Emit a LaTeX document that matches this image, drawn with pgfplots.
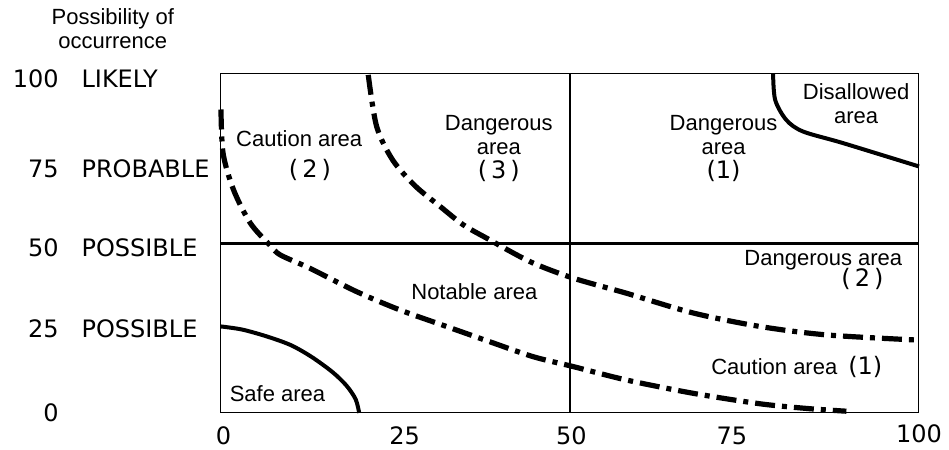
\documentclass[border=0pt]{standalone}
\usepackage{fontspec}
\setmainfont{Liberation Sans}
\newfontfamily\tickfont{DejaVu Sans}
\usepackage{pgfplots}
\pgfplotsset{compat=1.18}
\newcommand{\yl}[2]{\makebox[23.5pt][r]{#1}\hspace{11.5pt}\makebox[66.5pt][l]{#2}}
\newcommand{\pn}[1]{{\tickfont\fontsize{12}{12}\selectfont(\,#1\,)}}
\begin{document}
\begin{tikzpicture}
\begin{axis}[
  scale only axis, width=349pt, height=169.5pt,
  xmin=0, xmax=100, ymin=0, ymax=100,
  clip=false,
  axis line style={line width=0.5pt},
  xtick={0.35,26.3,50.2,73.2,100},
  xticklabels={0,25,50,75,\raisebox{1pt}{100}},
  ytick={0,24.8,48.8,72,98.5},
  yticklabels={\yl{0}{},\yl{25}{POSSIBLE},\yl{50}{POSSIBLE},\yl{75}{PROBABLE},\yl{100}{LIKELY}},
  major tick length=0pt,
  tick label style={font=\tickfont\fontsize{12}{14}\selectfont},
  xticklabel style={anchor=base, inner sep=0pt, yshift=-16pt},
  yticklabel style={anchor=east, inner sep=0pt, xshift=-3pt},
  /pgf/number format/assume math mode=true,
]
% dividing lines
\addplot[black, line width=1.3pt] coordinates {(50,0) (50,100)};
\addplot[black, line width=1.3pt] coordinates {(0,50) (100,50)};
% safe area
\addplot[black, line width=2pt, smooth] coordinates {
 (0,25.5) (3,24.6) (6.5,22.6) (10,20) (13,16.5) (16,12) (18,8) (19.3,4) (19.8,0)};
% disallowed area
\addplot[black, line width=2pt, smooth] coordinates {
 (79.1,100) (79.4,92.3) (81,86.4) (83.4,83) (89.1,79.6) (100,72.7)};
% lower dash-dot
\addplot[black, line width=2.6pt, smooth, dash pattern=on 10pt off 3.5pt on 2.5pt off 3.5pt] coordinates {
 (0,89.5) (0.3,76.6) (1.8,65.8) (4.2,56) (7,49.5) (8.5,46.6) (12.7,42.7) (19.4,35.8) (25.6,30.4)
 (32.3,25.5) (38.5,21) (44.7,16.6) (50.4,13.7) (58.1,9.7) (67.6,5.8) (77.2,2.7) (84,1.3) (89.6,0.5)};
% upper dash-dot
\addplot[black, line width=2.6pt, smooth, dash pattern=on 10pt off 3.5pt on 2.5pt off 3.5pt] coordinates {
 (21.1,99.7) (22.3,84.5) (24.6,74.6) (27.8,67) (31.4,60.9) (34.7,55.5) (38.1,51.5) (44.3,44.6) (50.4,39.8)
 (58.1,35.3) (67.6,29.5) (77.2,25.5) (86.8,23) (99.7,21.5)};
% labels
\begin{scope}[every node/.style={font=\fontsize{11}{12}\selectfont, align=center, inner sep=0pt}]
\node at (axis cs:-15.5,113.4) {Possibility of\\occurrence};
\node at (axis cs:11.2,81) {Caution area};
\node at (axis cs:12.75,71.7) {\pn{2}};
\node at (axis cs:39.8,78.0) {Dangerous\\area\\\pn{3}};
\node at (axis cs:72,78.0) {Dangerous\\area\\{\tickfont\fontsize{12}{12}\selectfont(1)}};
\node at (axis cs:91,91.3) {Disallowed\\area};
\node at (axis cs:86.3,45.1) {Dangerous area};
\node at (axis cs:91.9,39.5) {\pn{2}};
\node at (axis cs:36.3,35.7) {Notable area};
\node at (axis cs:82.5,13.6) {Caution area\enspace{\tickfont\fontsize{12}{12}\selectfont(1)}};
\node at (axis cs:8.1,5.6) {Safe area};
\end{scope}
\path (axis cs:-31.66,-10.9) rectangle (axis cs:104.3,121.8);
\end{axis}
\end{tikzpicture}
\end{document}
